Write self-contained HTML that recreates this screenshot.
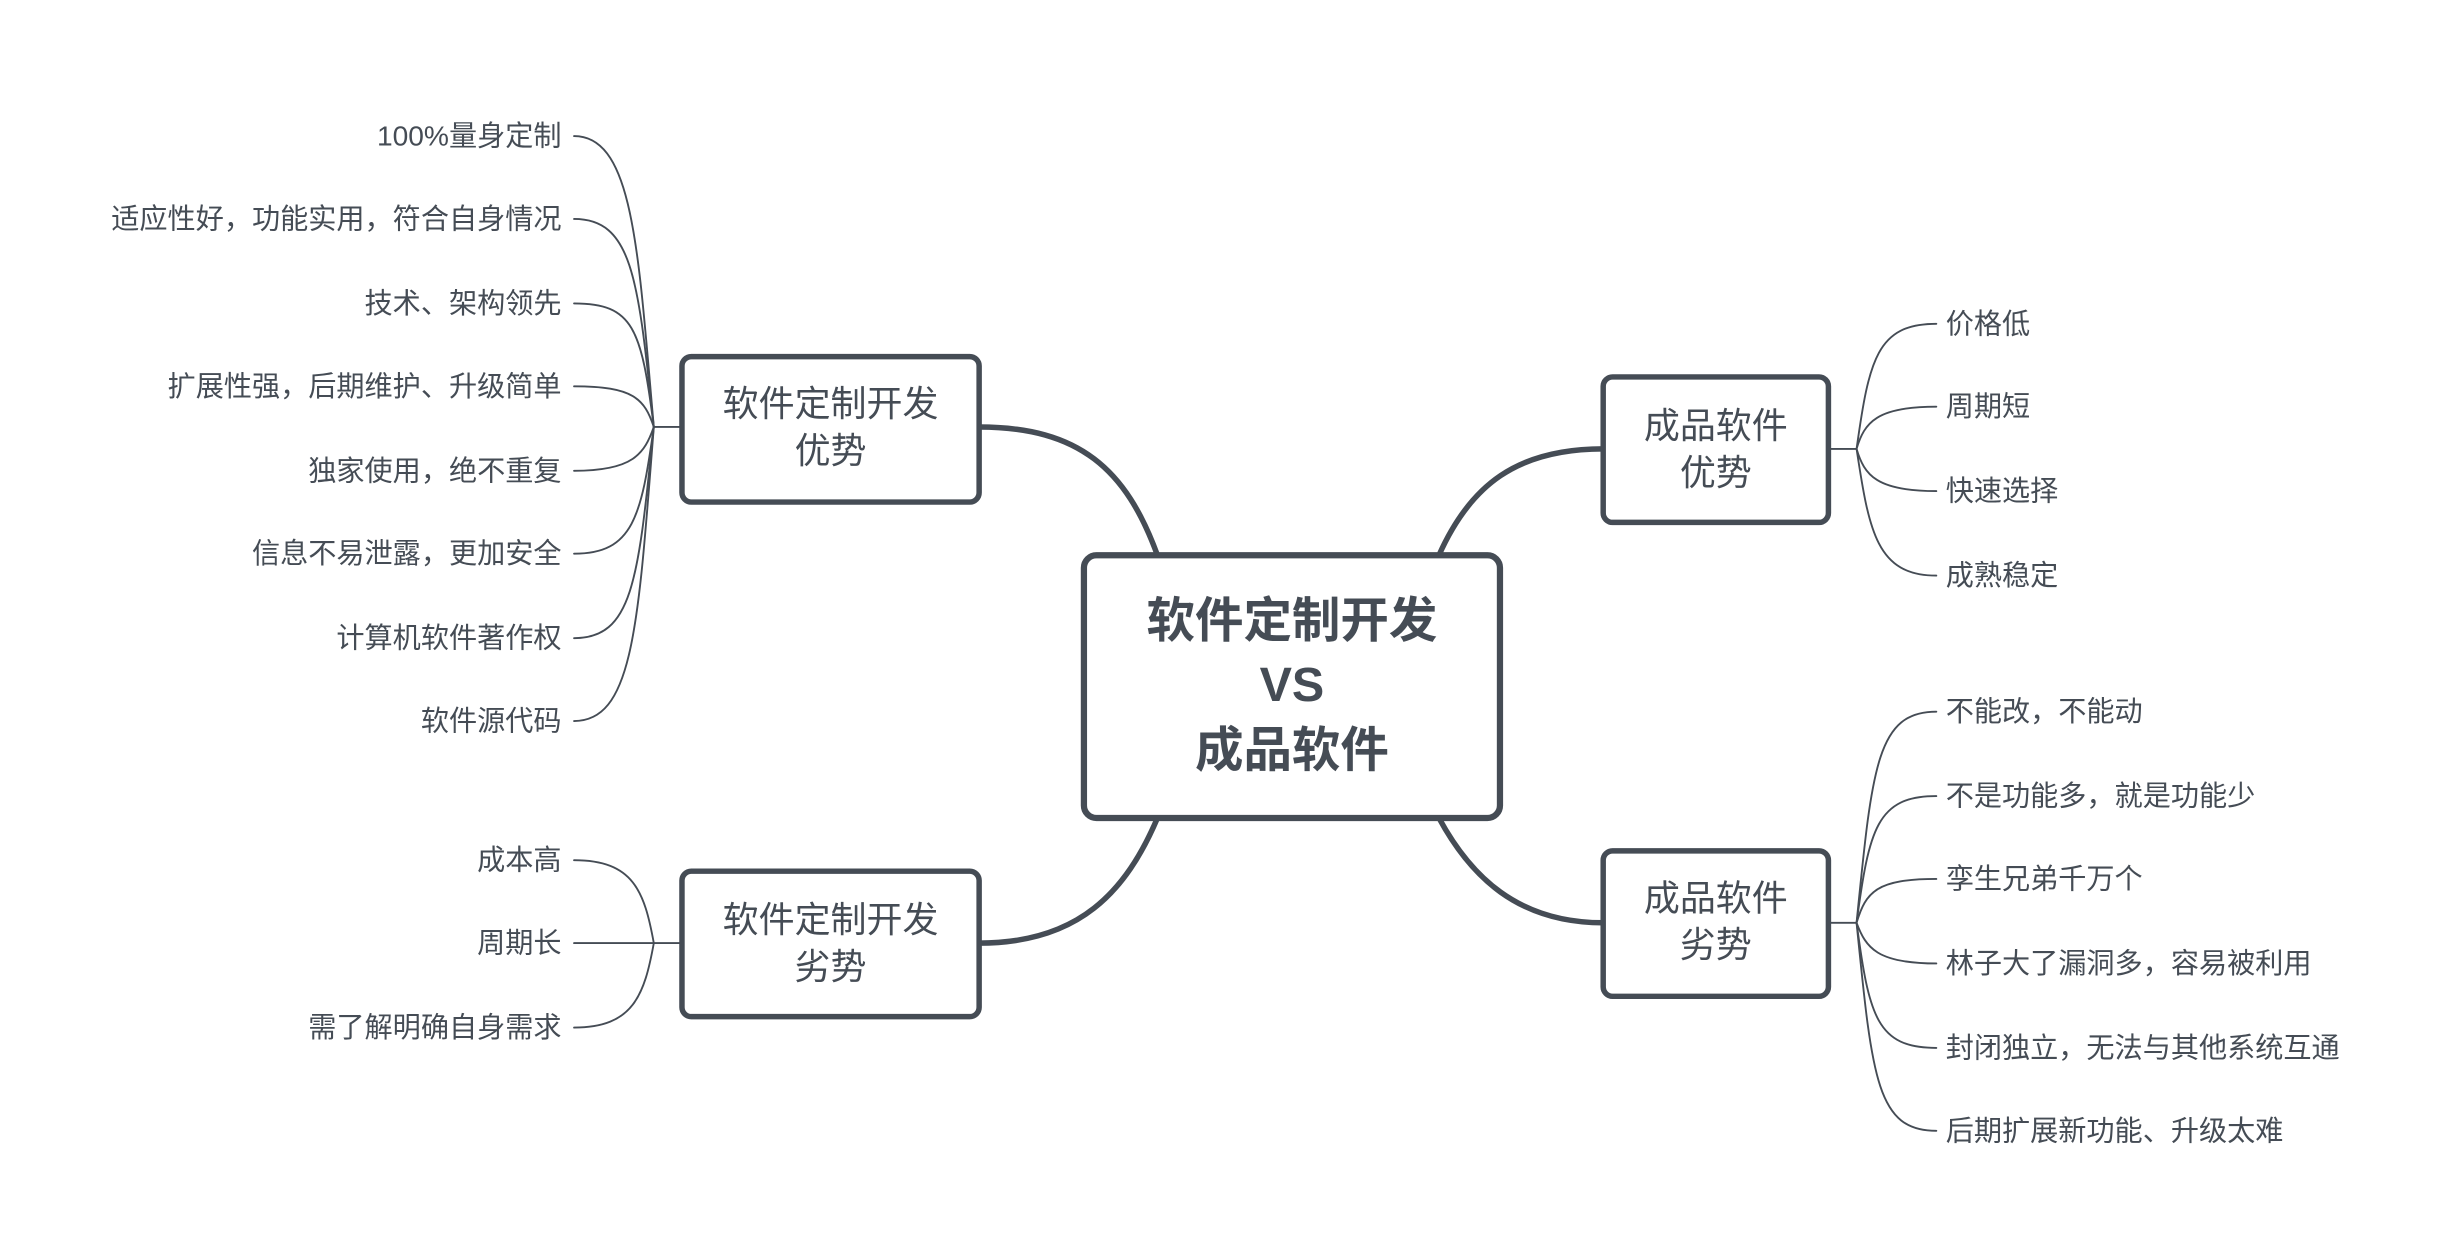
<!DOCTYPE html>
<html><head><meta charset="utf-8"><style>
html,body{margin:0;padding:0;background:#fff;}
svg{display:block;}
text{font-family:"Liberation Sans","Noto Sans CJK SC",sans-serif;fill:#454c55;dominant-baseline:central;}
</style></head><body>
<svg width="2440" height="1260" viewBox="0 0 1560 805.6" xmlns="http://www.w3.org/2000/svg">
<rect width="1560" height="806" fill="#fff"/>
<g fill="none" stroke="#454c55" stroke-linecap="round">
<g stroke-width="3.5">
<path d="M740 355 C720 300 690 273 626 273"/>
<path d="M920 355 C940 310 970 287 1025 287"/>
<path d="M740 523 C720 570 690 603 626 603"/>
<path d="M920 523 C940 560 970 590 1025 590"/>
</g>
<g stroke-width="1.2">
<path d="M436 273 H418"/>
<path d="M418 273 C408 160 405 87 367 87"/>
<path d="M418 273 C408 180 405 140 367 140"/>
<path d="M418 273 C410 210 405 194 367 194"/>
<path d="M418 273 C412 255 405 247 367 247"/>
<path d="M418 273 C412 290 405 301 367 301"/>
<path d="M418 273 C410 330 405 354 367 354"/>
<path d="M418 273 C408 370 405 408 367 408"/>
<path d="M418 273 C408 400 405 461 367 461"/>
<path d="M436 603 H418"/>
<path d="M418 603 C412 570 405 550 367 550"/>
<path d="M418 603 H367"/>
<path d="M418 603 C412 636 405 657 367 657"/>
<path d="M1169 287 H1187"/>
<path d="M1187 287 C1195 230 1200 207 1238 207"/>
<path d="M1187 287 C1192 270 1200 260 1238 260"/>
<path d="M1187 287 C1192 304 1200 314 1238 314"/>
<path d="M1187 287 C1195 340 1200 368 1238 368"/>
<path d="M1169 590 H1187"/>
<path d="M1187 590 C1197 490 1200 455 1238 455"/>
<path d="M1187 590 C1195 530 1200 509 1238 509"/>
<path d="M1187 590 C1193 570 1200 562 1238 562"/>
<path d="M1187 590 C1193 606 1200 616 1238 616"/>
<path d="M1187 590 C1195 650 1200 670 1238 670"/>
<path d="M1187 590 C1197 690 1200 723 1238 723"/>
</g>
</g>
<g fill="#fff" stroke="#454c55">
<rect x="693" y="355" width="266" height="168" rx="8" stroke-width="4"/>
<rect x="436" y="228" width="190" height="93" rx="6" stroke-width="3.5"/>
<rect x="436" y="557" width="190" height="93" rx="6" stroke-width="3.5"/>
<rect x="1025" y="241" width="144" height="93" rx="6" stroke-width="3.5"/>
<rect x="1025" y="544" width="144" height="93" rx="6" stroke-width="3.5"/>
</g>
<g text-anchor="middle" font-weight="bold" font-size="31">
<text x="826" y="397">软件定制开发</text>
<text x="826" y="438">VS</text>
<text x="826" y="480">成品软件</text>
</g>
<g text-anchor="middle" font-size="23">
<text x="531" y="258">软件定制开发</text><text x="531" y="288">优势</text>
<text x="531" y="588">软件定制开发</text><text x="531" y="618">劣势</text>
<text x="1097" y="272">成品软件</text><text x="1097" y="302">优势</text>
<text x="1097" y="574">成品软件</text><text x="1097" y="604">劣势</text>
</g>
<g text-anchor="end" font-size="18">
<text x="359" y="87">100%量身定制</text>
<text x="359" y="140">适应性好，功能实用，符合自身情况</text>
<text x="359" y="194">技术、架构领先</text>
<text x="359" y="247">扩展性强，后期维护、升级简单</text>
<text x="359" y="301">独家使用，绝不重复</text>
<text x="359" y="354">信息不易泄露，更加安全</text>
<text x="359" y="408">计算机软件著作权</text>
<text x="359" y="461">软件源代码</text>
<text x="359" y="550">成本高</text>
<text x="359" y="603">周期长</text>
<text x="359" y="657">需了解明确自身需求</text>
</g>
<g text-anchor="start" font-size="18">
<text x="1244" y="207">价格低</text>
<text x="1244" y="260">周期短</text>
<text x="1244" y="314">快速选择</text>
<text x="1244" y="368">成熟稳定</text>
<text x="1244" y="455">不能改，不能动</text>
<text x="1244" y="509">不是功能多，就是功能少</text>
<text x="1244" y="562">孪生兄弟千万个</text>
<text x="1244" y="616">林子大了漏洞多，容易被利用</text>
<text x="1244" y="670">封闭独立，无法与其他系统互通</text>
<text x="1244" y="723">后期扩展新功能、升级太难</text>
</g>
</svg>
</body></html>
